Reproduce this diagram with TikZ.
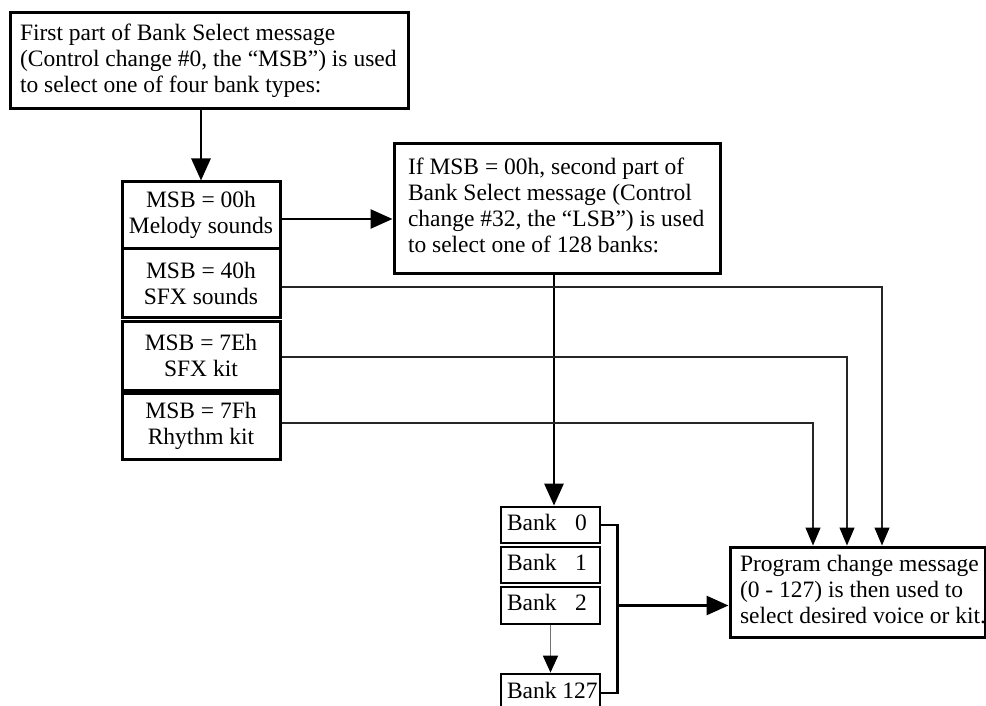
\documentclass[tikz,border=0pt]{standalone}
\usepackage{fontspec}
\setmainfont{Liberation Serif}
\usetikzlibrary{arrows.meta}
\newcommand\leftlines[3]{\makebox[#1][l]{\hspace*{#2}\begin{tabular}{@{}l@{}}#3\end{tabular}}}
\begin{document}
\begin{tikzpicture}[x=1pt,y=-1pt,
  txt/.style={font=\fontsize{23.5}{26}\selectfont},
  box/.style={txt,draw,line width=3pt,rectangle,inner sep=0pt},
  msbbox/.style={box,minimum width=158pt,align=center},
  bankbox/.style={box,line width=2.8pt,minimum width=99pt,minimum height=36pt},
  bigarrow/.style={line width=2.8pt,-{Triangle[length=22pt,width=19pt]}},
  thinarrow/.style={line width=1.3pt,draw=black!85,-{Triangle[length=18pt,width=15pt,color=black]}},
  grayarrow/.style={line width=1.8pt,draw=black!55,-{Triangle[length=17pt,width=15pt,color=black]}},
  bracket/.style={line width=2.8pt}
]
\clip (0,0) rectangle (986,706);

% nodes
\node[box,minimum width=398pt,minimum height=96pt] (top) at (209,61)
  {\leftlines{398pt}{10pt}{First part of Bank Select message\\(Control change \#0, the “MSB”) is used\\to select one of four bank types:}};

\node[box,minimum width=326pt,minimum height=129pt] (sec) at (557,208.5)
  {\leftlines{326pt}{14pt}{If MSB = 00h, second part of\\Bank Select message (Control\\change \#32, the “LSB”) is used\\to select one of 128 banks:}};

\node[box,minimum width=255pt,minimum height=90pt] (prog) at (857.5,592)
  {\leftlines{255pt}{10pt}{Program change message\\(0 - 127) is then used to\\select desired voice or kit.}};

\node[msbbox,minimum height=66pt] (msb0) at (201,215) {MSB = 00h\\Melody sounds};
\node[msbbox,minimum height=69pt] (msb1) at (201,283) {MSB = 40h\\SFX sounds};
\node[msbbox,minimum height=69pt] (msb2) at (201,355.5) {MSB = 7Eh\\SFX kit};
\node[msbbox,minimum height=66pt] (msb3) at (201,426) {MSB = 7Fh\\Rhythm kit};

\node[bankbox] (bank0) at (550.5,525) {\leftlines{99pt}{6pt}{Bank\hspace{18.5pt}0}};
\node[bankbox] (bank1) at (550.5,565) {\leftlines{99pt}{6pt}{Bank\hspace{18.5pt}1}};
\node[bankbox,minimum height=37pt] (bank2) at (550.5,605.5) {\leftlines{99pt}{6pt}{Bank\hspace{18.5pt}2}};
\node[bankbox,minimum height=38pt] (bank127) at (550.5,693) {\leftlines{99pt}{6pt}{Bank 127}};

% connectors
\draw[bigarrow] (msb0.north |- top.south) -- (msb0.north);
\draw[bigarrow] ([yshift=-4pt]msb0.east) -- ([yshift=-4pt]msb0.east -| sec.west);
\draw[bigarrow] ([xshift=-3pt]sec.south) -- ([xshift=-3pt]sec.south |- bank0.north);

\draw[thinarrow] ([yshift=-4pt]msb1.east) -| ([xshift=24.5pt]prog.north);
\draw[thinarrow] ([yshift=-1.5pt]msb2.east) -| ([xshift=-10.5pt]prog.north);
\draw[thinarrow] ([yshift=3pt]msb3.east) -| ([xshift=-44.5pt]prog.north);

\coordinate (br) at ([xshift=16pt]bank0.east);
\draw[bracket] (bank0.east) -- (br) |- (bank127.east);
\draw[bigarrow] (br |- bank2.east) -- (prog.west |- bank2.east);
\draw[grayarrow] (bank2.south) -- (bank127.north);
\end{tikzpicture}
\end{document}
